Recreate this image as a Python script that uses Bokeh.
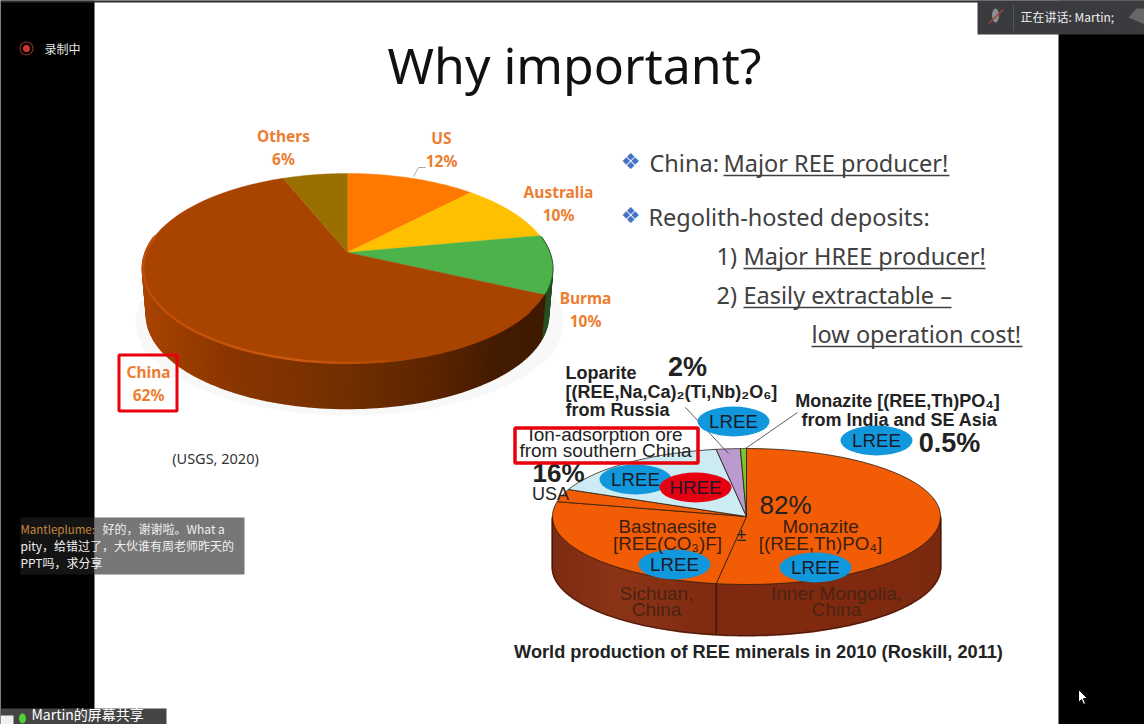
import numpy as np
from bokeh.plotting import figure
from bokeh.embed import file_html
from bokeh.resources import INLINE
from bokeh.core.properties import value

# ---- chart data ----
title_text = "Why important?"
pie1_labels = ["US", "Australia", "Burma", "China", "Others"]
pie1_values = [12, 10, 10, 62, 6]
pie1_colors = ["#FF7800", "#FFC000", "#4CB34A", "#A84300", "#997000"]

pie2_labels = ["Monazite", "Bastnaesite", "USA", "Ion-adsorption", "Loparite", "Monazite India"]
pie2_values = [52.5, 26, 3, 16, 2, 0.5]
pie2_colors = ["#F25C05", "#F25C05", "#F25C05", "#CDEBF2", "#B99BD0", "#7CC52C"]

S = "Noto Sans"
A = "Liberation Sans"
C = "Noto Sans CJK SC"

p = figure(width=1144, height=724, x_range=(0, 1144), y_range=(724, 0),
           output_backend="svg", toolbar_location=None, min_border=0,
           background_fill_color="#000000", border_fill_color="#000000")
p.axis.visible = False
p.grid.visible = False
p.outline_line_color = None


def txt(x, y, s, size, color="#222222", font=A, style="normal", align="center", base="middle"):
    p.text(x=[x], y=[y], text=[s], text_font=value(font), text_font_size=f"{size}px",
           text_color=color, text_font_style=style, text_align=align, text_baseline=base)


def rim(theta, cx, cy, a, b, k):
    u, v = np.sin(theta), -np.cos(theta)
    d = 1 - k * v
    return cx + a * u / d, cy + b * v / d


def hexmix(stops_x, stops_c, xv):
    rgb = [np.interp(xv, stops_x, [int(c[i:i + 2], 16) for c in stops_c]) for i in (1, 3, 5)]
    return "#%02x%02x%02x" % tuple(int(round(float(c))) for c in rgb)


# slide
p.quad(left=[94], right=[1058], top=[0], bottom=[724], fill_color="#ffffff", line_color=None)
p.quad(left=[0], right=[1144], top=[0], bottom=[2], fill_color="#2e2e2e", line_color=None)

# ---------- left pie ----------
cx1, cy1, a1, b1, k1, depth1, sc1 = 347, 252, 202, 92.3, 0.168, 47, 0.98
p.ellipse(x=[349], y=[322], width=[428], height=[186], fill_color="#999999", fill_alpha=0.07, line_color=None)
cum1 = np.cumsum([0] + pie1_values) / sum(pie1_values) * 2 * np.pi
th = np.radians(np.arange(80, 281, 1.5))
sx, sy = rim(th, cx1, cy1, a1, b1, k1)
bx, by = cx1 + (sx - cx1) * sc1, cy1 + (sy - cy1) * sc1 + depth1
xs, ys, cols = [], [], []
for i in range(len(th) - 1):
    xs.append([sx[i], sx[i + 1], bx[i + 1], bx[i]])
    ys.append([sy[i], sy[i + 1], by[i + 1], by[i]])
    mid = (th[i] + th[i + 1]) / 2
    if cum1[2] <= mid < cum1[3]:
        cols.append("#264f1f")
    else:
        cols.append(hexmix([143, 230, 340, 440, 500, 553],
                           ["#A84300", "#8a3600", "#743000", "#5a2400", "#431b00", "#3f1a00"], sx[i]))
p.patches(xs, ys, fill_color=cols, line_color=cols, line_width=2)
for i, col in enumerate(pie1_colors):
    t = np.linspace(cum1[i], cum1[i + 1], 60)
    x, y = rim(t, cx1, cy1, a1, b1, k1)
    p.patch(np.r_[cx1, x], np.r_[cy1, y], fill_color=col, line_color=col, line_width=0.4)
t = np.radians(np.arange(125, 282, 2))
x, y = rim(t, cx1, cy1, a1 - 0.5, b1 - 0.5, k1)
seg_c = [hexmix([143, 300, 420, 553], ["#c04e05", "#cc5a10", "#a84300", "#a84300"], x[i]) for i in range(len(t) - 1)]
p.multi_line([[x[i], x[i + 1]] for i in range(len(t) - 1)], [[y[i], y[i + 1]] for i in range(len(t) - 1)],
             line_color=seg_c, line_width=2.5)

OR = "#ED7D31"
for cat, val, lx, ly in zip(pie1_labels, pie1_values, [441, 558, 585, 148, 283], [137, 191, 297, 371, 135]):
    txt(lx, ly, cat, 15.5, OR, S, "bold")
    txt(lx, ly + 23, f"{val}%", 15.5, OR, S, "bold")
p.line([425, 418, 413], [167, 167, 176], line_color="#a6a6a6", line_width=1)
p.quad(left=[118.5], right=[176.5], top=[354.5], bottom=[410.5], fill_color=None, line_color="#E8000B", line_width=3)
txt(215, 457.5, "(USGS, 2020)", 14.5, "#333333", S)

# ---------- title and bullets ----------
txt(574, 64, title_text, 50, "#111111", S)
DG = "#404040"
for yb in (162, 216):
    txt(630, yb - 1, "❖", 22, "#4472C4", "DejaVu Sans")
rows = [(649, 162, "China: ", None), (723, 162, "Major REE producer!", 949),
        (648, 216, "Regolith-hosted deposits:", None),
        (716, 255, "1) ", None), (743, 255, "Major HREE producer!", 985),
        (716, 294, "2) ", None), (743, 294, "Easily extractable –", 951),
        (811, 333, "low operation cost!", 1022)]
for x0, yc, s, xe in rows:
    txt(x0, yc, s, 23.5, DG, S, align="left")
    if xe:
        p.line([x0, xe], [yc + 13, yc + 13], line_color=DG, line_width=1.5)

# ---------- right pie ----------
cx2, cy2, a2, b2, depth2 = 746, 516, 194, 68, 51
cum2 = np.cumsum([0] + pie2_values) / sum(pie2_values) * 2 * np.pi
th = np.radians(np.arange(90, 271, 2.0))
sx, sy = rim(th, cx2, cy2, a2, b2, 0)
xs = [[sx[i], sx[i + 1], sx[i + 1], sx[i]] for i in range(len(th) - 1)]
ys = [[sy[i], sy[i + 1], sy[i + 1] + depth2, sy[i] + depth2] for i in range(len(th) - 1)]
cols = [hexmix([552, 620, 720, 860, 940], ["#7d2c12", "#8b3418", "#7f2a10", "#802a10", "#7a2a10"], sx[i])
        for i in range(len(th) - 1)]
p.patches(xs, ys, fill_color=cols, line_color=cols, line_width=2)
t = np.radians(np.arange(90, 271, 1.0))
x, y = rim(t, cx2, cy2, a2, b2, 0)
p.line(x, y + depth2, line_color="#33140a", line_width=0.8)
p.line([x[0], x[0]], [y[0], y[0] + depth2], line_color="#33140a", line_width=0.8)
p.line([x[-1], x[-1]], [y[-1], y[-1] + depth2], line_color="#33140a", line_width=0.8)
for i, col in enumerate(pie2_colors):
    t = np.linspace(cum2[i], cum2[i + 1], 60)
    x, y = rim(t, cx2, cy2, a2, b2, 0)
    p.patch(np.r_[cx2, x], np.r_[cy2, y], fill_color=col, line_color="#2a1a10", line_width=0.8)
bx0, by0 = rim(np.array([cum2[1]]), cx2, cy2, a2, b2, 0)
p.line([bx0[0], bx0[0]], [by0[0], by0[0] + depth2], line_color="#2a1108", line_width=1)

p.line([685, 728], [407, 453], line_color="#333333", line_width=0.8)
p.line([797, 745], [412, 448], line_color="#333333", line_width=0.8)

for ex, ey, col in [(733, 421, "#1197DC"), (876, 440, "#1197DC"), (635, 479, "#1197DC"),
                    (695, 487, "#E60012"), (674, 564, "#1197DC"), (815, 567, "#1197DC")]:
    p.ellipse(x=[ex], y=[ey], width=[72], height=[30], fill_color=col, line_color=None)
    txt(ex, ey, "HREE" if col == "#E60012" else "LREE", 18.7, "#1a1a2a", A)

B = "bold"
txt(565, 372, "Loparite", 18, "#222222", A, B, "left")
txt(565, 391, "[(REE,Na,Ca)₂(Ti,Nb)₂O₆]", 18, "#222222", A, B, "left")
txt(565, 409, "from Russia", 18, "#222222", A, B, "left")
txt(687, 366, "2%", 27, "#222222", A, B)
txt(897, 400, "Monazite [(REE,Th)PO₄]", 18, "#222222", A, B)
txt(899, 419, "from India and SE Asia", 18, "#222222", A, B)
txt(949, 442, "0.5%", 27, "#222222", A, B)
txt(558, 472, "16%", 26, "#222222", A, B)
txt(550, 493, "USA", 18, "#222222", A)
txt(605, 434, "Ion-adsorption ore", 19, "#222222", A)
txt(605, 450, "from southern China", 19, "#222222", A)
p.quad(left=[514.5], right=[697.5], top=[427.5], bottom=[462.5], fill_color=None, line_color="#E8000B", line_width=3.5)
txt(785, 504, "82%", 26, "#222222", A)
txt(741, 534, "±", 18, "#222222", A)
txt(667, 526, "Bastnaesite", 18.8, "#3a2010", A)
txt(667, 543, "[REE(CO₃)F]", 18.8, "#3a2010", A)
txt(820, 526, "Monazite", 18.8, "#3a2010", A)
txt(820, 543, "[(REE,Th)PO₄]", 18.8, "#3a2010", A)
for lx, ly, s in [(656, 593, "Sichuan,"), (656, 609, "China"), (836, 593, "Inner Mongolia,"), (836, 609, "China")]:
    txt(lx, ly, s, 19, "#4a2412", A)
txt(758, 651, "World production of REE minerals in 2010 (Roskill, 2011)", 18.2, "#222222", A, B)

# ---------- meeting overlay ----------
p.circle(x=[26], y=[48], radius=[6.5], fill_color=None, line_color="#8a2a22", line_width=1.2)
p.circle(x=[26], y=[48], radius=[3.5], fill_color="#C8372B", line_color=None)
txt(44, 48, "录制中", 12, "#e6e6e6", C, align="left")

p.quad(left=[977], right=[1144], top=[0], bottom=[34], fill_color="#3a3b3f", line_color=None)
p.line([1013, 1013], [4, 30], line_color="#55565a", line_width=1)
p.ellipse(x=[995], y=[15], width=[7], height=[14], fill_color="#8d8d8d", line_color=None)
p.line([988, 1003], [23, 9], line_color="#a3403a", line_width=1.5)
txt(1020, 16, "正在讲话: Martin;", 12, "#f0f0f0", C, align="left")
p.patch([1136, 1144, 1144, 1128], [8, 8, 24, 17], fill_color="#66676b", line_color=None)

p.quad(left=[20], right=[94], top=[517], bottom=[574], fill_color="#141414", line_color=None)
p.quad(left=[94], right=[244], top=[517], bottom=[574], fill_color="#777777", line_color=None)
txt(20, 528, "Mantleplume:", 11.5, "#C8873C", C, align="left")
txt(102, 528, "好的，谢谢啦。What a", 12, "#f0f0f0", C, align="left")
txt(20, 545, "pity，给错过了，大伙谁有周老师昨天的", 12, "#f0f0f0", C, align="left")
txt(20, 562, "PPT吗，求分享", 12, "#f0f0f0", C, align="left")

p.quad(left=[0], right=[166], top=[708], bottom=[724], fill_color="#444444", line_color=None)
p.patch([0, 13, 13, 0], [715, 715, 724, 724], fill_color="#f0f0f0", line_color=None)
p.ellipse(x=[22], y=[718], width=[7], height=[10], fill_color="#4CD137", line_color=None)
txt(31, 713, "Martin的屏幕共享", 14, "#ffffff", C, align="left")

p.patch([1078, 1078, 1081, 1083, 1085, 1083, 1087], [689, 702, 699, 704, 703, 698, 698],
        fill_color="#ffffff", line_color="#000000", line_width=1)

open("out.html", "w").write(file_html(p, INLINE))
